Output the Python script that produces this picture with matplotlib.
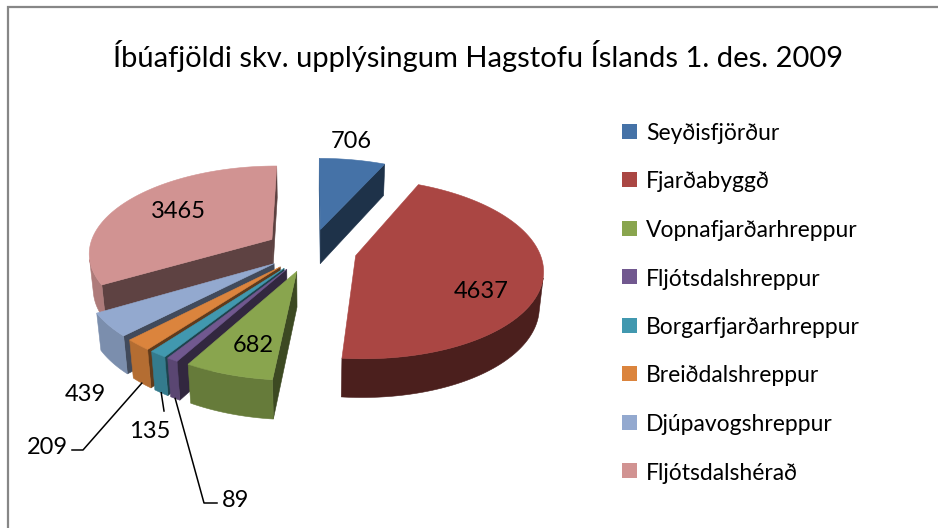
import numpy as np
import matplotlib.pyplot as plt
from matplotlib.patches import Polygon, Rectangle
from matplotlib.colors import to_rgb

plt.rcParams['font.family'] = ['Lato', 'DejaVu Sans']

# Gögn
title = "Íbúafjöldi skv. upplýsingum Hagstofu Íslands 1. des. 2009"
categories = ["Seyðisfjörður", "Fjarðabyggð", "Vopnafjarðarhreppur", "Fljótsdalshreppur",
              "Borgarfjarðarhreppur", "Breiðdalshreppur", "Djúpavogshreppur", "Fljótsdalshérað"]
values = [706, 4637, 682, 89, 135, 209, 439, 3465]
colors = ['#4572A7', '#AA4643', '#89A54E', '#71588F', '#4198AF', '#DB843D', '#93A9CF', '#D19392']

# label placement (pixels, baseline)
label_pos = [(351, 148), (481, 298), (253, 352), (236, 507), (150, 438), (47, 454), (85, 401), (178, 218)]
# leader lines: points from the text towards the slice
leaders = {3: [(217, 503), (204, 503)], 4: [(164, 411)], 5: [(72, 450), (83, 450)]}

# 3D view settings
S = 180
elev = np.radians(30)
ce, se = np.cos(elev), np.sin(elev)
D = 6.2
thick = 0.22
explode = 0.25
cx = 311
cy = 250 + S * thick * ce * D / (D - thick * se)
cam = np.array([0.0, D * se, -D * ce])


def proj(X, Y, Z):
    up = Y * ce + Z * se
    dep = -Z * ce + Y * se
    f = D / (D - dep)
    return cx + S * X * f, cy - S * up * f


def shade(col, nx, nz):
    L = np.array([-0.8, -0.5]) / np.hypot(0.8, 0.5)
    d = max(0.0, nx * L[0] + nz * L[1])
    k = 0.44 + 0.4 * d
    return tuple(c * k for c in to_rgb(col))


fig = plt.figure(figsize=(9.38, 5.28), dpi=100)
ax = fig.add_axes([0, 0, 1, 1])
ax.set_xlim(0, 938)
ax.set_ylim(528, 0)
ax.axis('off')

total = sum(values)
edges = np.concatenate([[0], np.cumsum(values)]) / total * 360.0
mids = (edges[:-1] + edges[1:]) / 2

def add_poly(pts, col):
    ax.add_patch(Polygon(pts, closed=True, facecolor=col, edgecolor=col, lw=0.4))

# far slices first
order = sorted(range(len(values)), key=lambda i: np.cos(np.radians(mids[i])), reverse=True)
anchors = {}
for i in order:
    a0, a1 = np.radians(edges[i]), np.radians(edges[i + 1])
    am = np.radians(mids[i])
    ox, oz = explode * np.sin(am), explode * np.cos(am)
    th = np.linspace(a0, a1, max(4, int(edges[i + 1] - edges[i]) + 2))
    ax_, az_ = ox + np.sin(th), oz + np.cos(th)

    # radial walls
    for a, sgn in ((a0, -1), (a1, 1)):
        n = np.array([np.sin(a + sgn * np.pi / 2), 0, np.cos(a + sgn * np.pi / 2)])
        p = np.array([ox, thick / 2, oz])
        if np.dot(cam - p, n) > 0:
            px = ox + np.sin(a)
            pz = oz + np.cos(a)
            pts = [proj(ox, thick, oz), proj(px, thick, pz), proj(px, 0, pz), proj(ox, 0, oz)]
            add_poly(pts, shade(colors[i], n[0], n[2]))

    # outer wall
    vis = []
    for t_, X, Z in zip(th, ax_, az_):
        n = np.array([np.sin(t_), 0, np.cos(t_)])
        vis.append(np.dot(cam - np.array([X, thick / 2, Z]), n) > 0)
    vis = np.array(vis)
    if vis.sum() >= 2:
        idx = np.where(vis)[0]
        sel = slice(idx[0], idx[-1] + 1)
        top = [proj(X, thick, Z) for X, Z in zip(ax_[sel], az_[sel])]
        bot = [proj(X, 0, Z) for X, Z in zip(ax_[sel], az_[sel])]
        mt = th[sel].mean()
        add_poly(top + bot[::-1], shade(colors[i], np.sin(mt), np.cos(mt)))

    # top face
    pts = [proj(ox, thick, oz)] + [proj(X, thick, Z) for X, Z in zip(ax_, az_)]
    add_poly(pts, colors[i])

    anchors[i] = proj(ox + np.sin(am), 0, oz + np.cos(am))

# data labels
for i, v in enumerate(values):
    x, y = label_pos[i]
    ax.text(x, y, str(v), ha='center', va='baseline', fontsize=17, color='black')
    if i in leaders:
        pts = leaders[i] + [anchors[i]]
        ax.plot([p[0] for p in pts], [p[1] for p in pts], color='black', lw=1.1)

# title
ax.text(478, 67, title, ha='center', va='baseline', fontsize=21, color='black')

# legend
for i, name in enumerate(categories):
    yc = 131 + 48.5 * i
    ax.add_patch(Rectangle((622, yc - 7.5), 15, 15, facecolor=colors[i], edgecolor='none'))
    ax.text(646, yc + 9, name, ha='left', va='baseline', fontsize=16.5, color='black')

# chart border
ax.plot([7.5, 7.5, 938], [528, 6.5, 6.5], color='#878787', lw=1.6, solid_joinstyle='miter')

fig.savefig('out.png', dpi=100)
